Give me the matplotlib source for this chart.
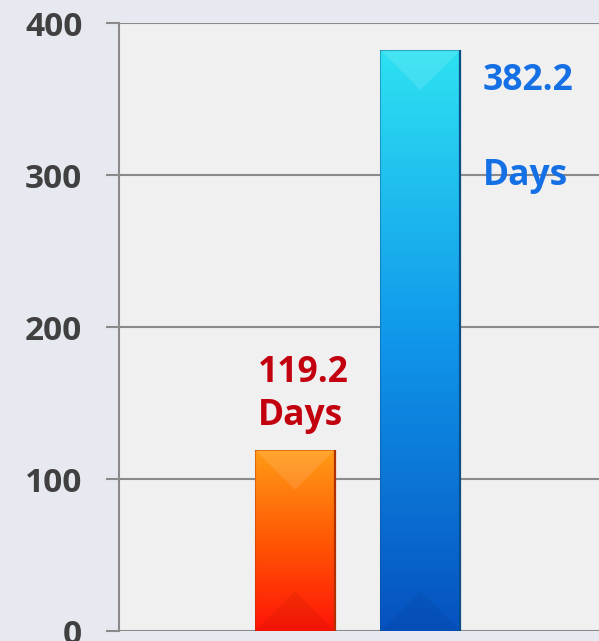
import matplotlib
matplotlib.use("Agg")
import matplotlib.pyplot as plt
import numpy as np
from matplotlib.colors import LinearSegmentedColormap
from matplotlib.patches import Polygon

# ---- data ----
categories = ["Before", "After"]
values = [119.2, 382.2]
value_labels = ["119.2", "382.2"]
unit_label = "Days"
yticks = [0, 100, 200, 300, 400]

bar_colors = [
    ["#ff1408", "#ff5804", "#ff9c16"],   # bottom -> top
    ["#0652c0", "#1096ea", "#2ee2f2"],
]
edge_colors = ["#b03000", "#0b4f86"]
text_colors = ["#c2000e", "#1470e4"]

FONT = "Open Sans"
fig = plt.figure(figsize=(5.99, 6.41), dpi=100)
fig.patch.set_facecolor("#e6e9ef")
ax = fig.add_axes([119 / 599, 10 / 641, 480 / 599, 608 / 641])
ax.set_facecolor("#f0f0f1")

x = np.arange(len(categories))
width = 0.637
ax.set_xlim(-1.402, 2.423)
ax.set_ylim(0, 400)

bars = ax.bar(x, values, width=width, color="none", edgecolor="none", zorder=3)

for b, cols, ec in zip(bars, bar_colors, edge_colors):
    x0, y0 = b.get_x(), b.get_y()
    w, h = b.get_width(), b.get_height()
    cmap = LinearSegmentedColormap.from_list("g", cols)
    grad = np.linspace(0, 1, 256).reshape(-1, 1)
    im = ax.imshow(grad, cmap=cmap, origin="lower", aspect="auto",
                   extent=[x0, x0 + w, y0, y0 + h], zorder=3)
    im.set_clip_path(b)
    # bevel triangles (45 degrees in display space)
    p0 = ax.transData.transform((x0, y0))
    p1 = ax.transData.transform((x0 + w, y0 + h))
    wpx = p1[0] - p0[0]
    inv = ax.transData.inverted()
    dy = inv.transform((0, p0[1] + wpx / 2))[1] - inv.transform((0, p0[1]))[1]
    top = Polygon([(x0, y0 + h), (x0 + w, y0 + h), (x0 + w / 2, y0 + h - dy)],
                  closed=True, facecolor="white", alpha=0.11, edgecolor="none", zorder=4)
    bot = Polygon([(x0, y0), (x0 + w, y0), (x0 + w / 2, y0 + dy)],
                  closed=True, facecolor="black", alpha=0.05, edgecolor="none", zorder=4)
    ax.add_patch(top)
    ax.add_patch(bot)
    # right dark edge
    ax.plot([x0 + w, x0 + w], [y0, y0 + h], color=ec, lw=1.6, zorder=5,
            solid_capstyle="butt")
    ax.plot([x0, x0], [y0, y0 + h], color=ec, lw=0.8, alpha=0.4, zorder=5)
    ax.plot([x0, x0 + w], [y0 + h, y0 + h], color=ec, lw=0.8, alpha=0.4, zorder=5)

# labels
b0 = bars[0]
ax.annotate(value_labels[0], xy=(b0.get_x(), values[0]), xytext=(3, 68),
            textcoords="offset pixels", ha="left", va="baseline",
            fontsize=25.5, fontweight="bold", color=text_colors[0], family=FONT,
            zorder=6)
ax.annotate(unit_label, xy=(b0.get_x(), values[0]), xytext=(3, 25),
            textcoords="offset pixels", ha="left", va="baseline",
            fontsize=25.5, fontweight="bold", color=text_colors[0], family=FONT,
            zorder=6)
b1 = bars[1]
ax.annotate(value_labels[1], xy=(b1.get_x() + b1.get_width(), values[1]),
            xytext=(22, -40), textcoords="offset pixels", ha="left", va="baseline",
            fontsize=25.5, fontweight="bold", color=text_colors[1], family=FONT,
            zorder=6)
ax.annotate(unit_label, xy=(b1.get_x() + b1.get_width(), values[1]),
            xytext=(22, -135), textcoords="offset pixels", ha="left", va="baseline",
            fontsize=25.5, fontweight="bold", color=text_colors[1], family=FONT,
            zorder=6)

# axes styling
ax.set_yticks(yticks)
ax.set_yticklabels([str(t) for t in yticks], fontsize=24, fontweight="bold",
                   color="#404040", family=FONT)
ax.tick_params(axis="y", direction="out", length=9.4, width=1.5, color="#8a8a8a",
               pad=17)
ax.set_xticks([])
ax.grid(axis="y", color="#8a8a8a", lw=1.5, zorder=1)
ax.set_axisbelow(True)
for s in ["top", "right", "bottom"]:
    ax.spines[s].set_visible(False)
ax.spines["left"].set_color("#8a8a8a")
ax.spines["left"].set_linewidth(1.5)
for lab in ax.get_yticklabels():
    lab.set_clip_on(False)

fig.savefig("out.png", dpi=100, facecolor=fig.get_facecolor())
